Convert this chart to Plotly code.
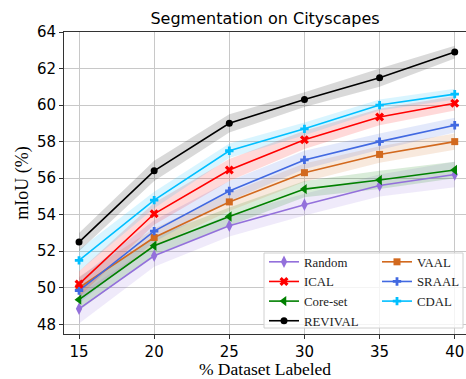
import plotly.graph_objects as go

x_vals = [15, 20, 25, 30, 35, 40]

names = ["Random", "ICAL", "Core-set", "REVIVAL", "VAAL", "SRAAL", "CDAL"]

random_y = [48.85, 51.75, 53.4, 54.55, 55.6, 56.2]
ical_y = [50.2, 54.05, 56.45, 58.1, 59.35, 60.1]
coreset_y = [49.35, 52.3, 53.9, 55.4, 55.9, 56.45]
revival_y = [52.5, 56.4, 59.0, 60.3, 61.5, 62.9]
vaal_y = [50.0, 52.75, 54.7, 56.3, 57.3, 58.0]
sraal_y = [49.85, 53.1, 55.3, 57.0, 58.0, 58.9]
cdal_y = [51.5, 54.8, 57.5, 58.7, 60.0, 60.6]

random_sd = [0.8, 0.6, 0.6, 0.6, 0.6, 0.7]
ical_sd = [0.7, 0.6, 0.6, 0.5, 0.45, 0.4]
coreset_sd = [0.6, 0.5, 0.5, 0.45, 0.5, 0.45]
revival_sd = [0.5, 0.55, 0.5, 0.4, 0.5, 0.35]
vaal_sd = [0.6, 0.5, 0.5, 0.5, 0.45, 0.45]
sraal_sd = [0.7, 0.6, 0.55, 0.5, 0.45, 0.4]
cdal_sd = [0.6, 0.45, 0.4, 0.35, 0.3, 0.3]

series = {
    "Random": (random_y, random_sd, (147, 112, 219), "diamond-tall", 9, "legend", 1),
    "ICAL": (ical_y, ical_sd, (255, 0, 0), "x", 8, "legend", 2),
    "Core-set": (coreset_y, coreset_sd, (0, 128, 0), "triangle-left", 9, "legend", 3),
    "REVIVAL": (revival_y, revival_sd, (0, 0, 0), "circle", 7, "legend", 4),
    "VAAL": (vaal_y, vaal_sd, (210, 105, 30), "square", 7, "legend2", 1),
    "SRAAL": (sraal_y, sraal_sd, (65, 105, 225), "cross", 7, "legend2", 2),
    "CDAL": (cdal_y, cdal_sd, (0, 191, 255), "cross", 7, "legend2", 3),
}

draw_order = ["Random", "Core-set", "VAAL", "SRAAL", "ICAL", "CDAL", "REVIVAL"]

fig = go.Figure()

for n in draw_order:
    y, sd, c, sym, sz, lg, rk = series[n]
    up = [a + b for a, b in zip(y, sd)]
    lo = [a - b for a, b in zip(y, sd)]
    alpha = 0.15
    fig.add_trace(go.Scatter(
        x=x_vals + x_vals[::-1], y=up + lo[::-1], fill="toself",
        fillcolor=f"rgba({c[0]},{c[1]},{c[2]},{alpha})", line=dict(width=0),
        mode="lines", showlegend=False, hoverinfo="skip"))

for n in draw_order:
    y, sd, c, sym, sz, lg, rk = series[n]
    col = f"rgb({c[0]},{c[1]},{c[2]})"
    fig.add_trace(go.Scatter(
        x=x_vals, y=y, name=n, mode="lines+markers",
        line=dict(color=col, width=1.6),
        marker=dict(symbol=sym, size=sz, color=col, line=dict(width=0)),
        legend=lg, legendrank=rk))

L, R, T, B = 64, 0, 32, 45
W, H = 466, 379
pw = W - L - R
ph = H - T - B

def px_x(p):
    return (p - L) / pw

def px_y(p):
    return 1 - (p - T) / ph

legend_common = dict(
    bgcolor="rgba(0,0,0,0)", borderwidth=0,
    font=dict(family="Liberation Serif", size=12.8, color="#222"),
    itemwidth=30, tracegroupgap=0,
    xanchor="left", yanchor="top",
)

fig.update_layout(
    width=W, height=H,
    margin=dict(l=L, r=R, t=T, b=B),
    paper_bgcolor="white", plot_bgcolor="white",
    title=dict(text="Segmentation on Cityscapes", x=px_x(265), xref="paper",
               xanchor="center", y=1 - 18 / H, yanchor="middle",
               font=dict(family="DejaVu Sans", size=16, color="black")),
    xaxis=dict(range=[14.0, 40.75], tickvals=[15, 20, 25, 30, 35, 40],
               showgrid=True, gridcolor="#c8c8c8", gridwidth=1,
               showline=True, linecolor="#333", linewidth=1, mirror=True,
               ticks="outside", ticklen=4, tickcolor="#333",
               tickfont=dict(family="DejaVu Sans", size=15, color="black"),
               zeroline=False,
               title=dict(text="% Dataset Labeled", standoff=6,
                          font=dict(family="Liberation Serif", size=17.5, color="black"))),
    yaxis=dict(range=[47.47, 64], tickvals=[48, 50, 52, 54, 56, 58, 60, 62, 64],
               showgrid=True, gridcolor="#c8c8c8", gridwidth=1,
               showline=True, linecolor="#333", linewidth=1, mirror=True,
               ticks="outside", ticklen=4, tickcolor="#333",
               tickfont=dict(family="DejaVu Sans", size=15, color="black"),
               zeroline=False,
               title=dict(text="mIoU (%)", standoff=3,
                          font=dict(family="Liberation Serif", size=18, color="black"))),
    legend=dict(x=px_x(264), y=px_y(247), **legend_common),
    legend2=dict(x=px_x(377), y=px_y(247), **legend_common),
    shapes=[dict(type="rect", xref="paper", yref="paper",
                 x0=px_x(264), x1=px_x(463), y0=px_y(328), y1=px_y(253),
                 line=dict(color="#d0d0d0", width=1),
                 fillcolor="rgba(255,255,255,0.8)", layer="above")],
)

fig.write_html("out.html", config={"displayModeBar": False},
               post_script="document.body.style.margin='0';document.body.style.padding='0';")
